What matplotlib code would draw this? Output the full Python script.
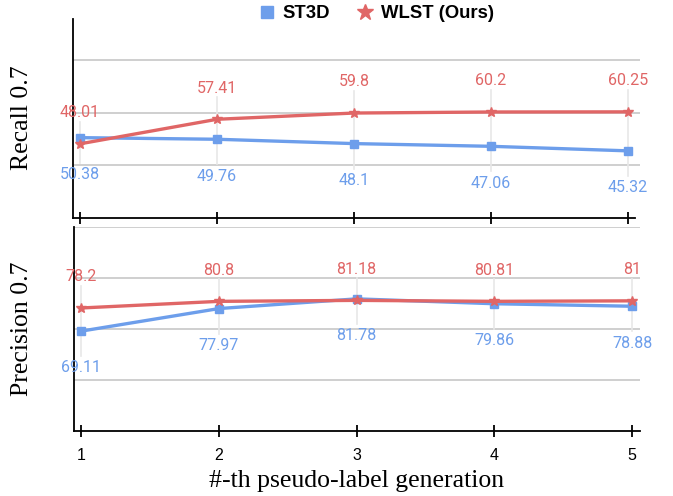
import matplotlib
matplotlib.use("Agg")
import matplotlib.pyplot as plt
from matplotlib.lines import Line2D
import numpy as np

generations = [1, 2, 3, 4, 5]
recall_st3d = [50.38, 49.76, 48.1, 47.06, 45.32]
recall_wlst = [48.01, 57.41, 59.8, 60.2, 60.25]
prec_st3d = [69.11, 77.97, 81.78, 79.86, 78.88]
prec_wlst = [78.2, 80.8, 81.18, 80.81, 81.0]
recall_wlst_labels = ["48.01", "57.41", "59.8", "60.2", "60.25"]
recall_st3d_labels = ["50.38", "49.76", "48.1", "47.06", "45.32"]
prec_wlst_labels = ["78.2", "80.8", "81.18", "80.81", "81"]
prec_st3d_labels = ["69.11", "77.97", "81.78", "79.86", "78.88"]

BLUE = "#6D9EEB"
RED = "#E06666"
GRID = "#CCCCCC"

W, H = 673, 496
fig = plt.figure(figsize=(W / 100, H / 100), dpi=100)


def px_axes(left, top, right, bottom):
    return fig.add_axes([left / W, 1 - bottom / H, (right - left) / W, (bottom - top) / H])


ax1 = px_axes(72.7, 19, 640, 218.3)
ax2 = px_axes(74, 227, 640, 430.7)


def style(ax, ylim, grid_vals, xlim, show_labels, xend):
    ax.set_xlim(*xlim)
    ax.set_ylim(*ylim)
    for s in ["top", "right"]:
        ax.spines[s].set_visible(False)
    for s in ["left", "bottom"]:
        ax.spines[s].set_color("black")
        ax.spines[s].set_linewidth(1.3)
    ax.spines["bottom"].set_bounds(xlim[0], xend)
    ax.set_yticks([])
    for g in grid_vals:
        ax.axhline(g, color=GRID, lw=1.3, zorder=0)
    ax.set_xticks(generations)
    ax.tick_params(axis="x", direction="inout", length=8, width=1.3, color="black",
                   pad=8.5, labelsize=11.5, labelbottom=show_labels)
    for t in ax.get_xticklabels():
        t.set_fontfamily("Liberation Sans")


style(ax1, (19.5, 95.8), [40, 60, 80], (0.9467, 5.0876), False, 5.05)
style(ax2, (30, 110), [50, 70, 90, 110], (0.947, 5.058), True, 5.058)


def draw(ax, st, wl, st_lab, wl_lab):
    # faint vertical guide lines
    inv = ax.transData.inverted()
    for x, ys, yw in zip(generations, st, wl):
        pw = ax.transData.transform((x, yw))
        ps = ax.transData.transform((x, ys))
        top = inv.transform((pw[0], pw[1] + 22))[1]
        bot = inv.transform((ps[0], ps[1] - 25))[1]
        ax.plot([x, x], [bot, top], color="#E8E8E8", lw=1.2, zorder=1, clip_on=False)
    ax.plot(generations, st, color=BLUE, lw=2.4, marker="s", ms=6, zorder=3, clip_on=False)
    ax.plot(generations, wl, color=RED, lw=2.4, marker="*", ms=7.5, zorder=4, clip_on=False)
    for x, y, t in zip(generations, wl, wl_lab):
        ax.annotate(t, (x, y), xytext=(0, 22.5), textcoords="offset points",
                    ha="center", va="center", color=RED, fontsize=11.5,
                    fontfamily="Roboto", annotation_clip=False)
    for x, y, t in zip(generations, st, st_lab):
        ax.annotate(t, (x, y), xytext=(0, -26.5), textcoords="offset points",
                    ha="center", va="center", color=BLUE, fontsize=11.5,
                    fontfamily="Roboto", annotation_clip=False)


draw(ax1, recall_st3d, recall_wlst, recall_st3d_labels, recall_wlst_labels)
draw(ax2, prec_st3d, prec_wlst, prec_st3d_labels, prec_wlst_labels)

fig.text(22 / W, 1 - 118 / H, "Recall 0.7", rotation=90, ha="center", va="center",
         fontfamily="Liberation Serif", fontsize=18.5)
fig.text(22 / W, 1 - 329 / H, "Precision 0.7", rotation=90, ha="center", va="center",
         fontfamily="Liberation Serif", fontsize=18.5)
fig.text(357 / W, 1 - 481 / H, "#-th pseudo-label generation", ha="center", va="center",
         fontfamily="Liberation Serif", fontsize=18.5)

handles = [
    Line2D([], [], color=BLUE, marker="s", ms=8, ls="none", label="ST3D"),
    Line2D([], [], color=RED, marker="*", ms=12, ls="none", label="WLST (Ours)"),
]
fig.legend(handles=handles, loc="center", bbox_to_anchor=(376 / W, 1 - 14 / H), ncol=2,
           frameon=False, prop={"family": "Liberation Sans", "weight": "bold", "size": 13.3},
           handletextpad=0.35, columnspacing=1.4, handlelength=1.0)

fig.savefig("out.png", dpi=100)
